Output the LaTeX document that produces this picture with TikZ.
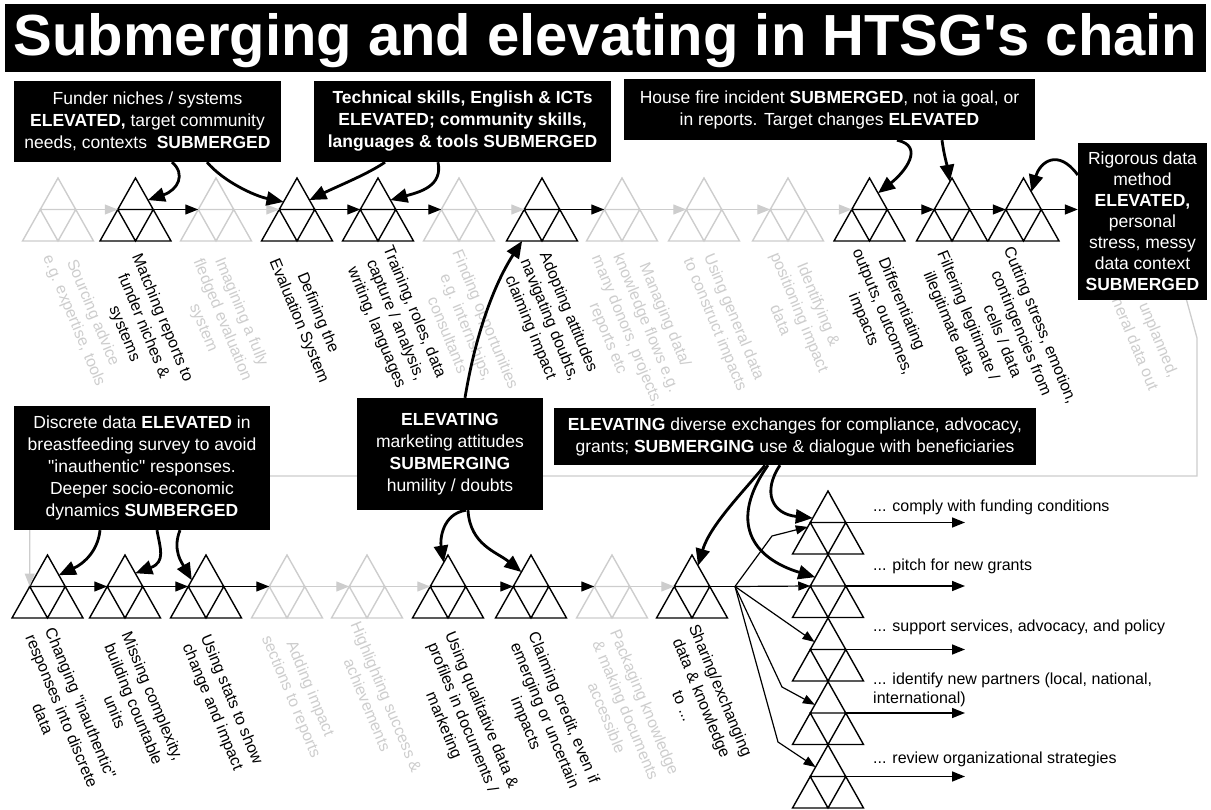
\documentclass[tikz,border=0pt]{standalone}
\usepackage{fontspec}
\newfontfamily\arial{Liberation Sans}[Ligatures=ResetAll]
\usetikzlibrary{arrows.meta,calc}
\definecolor{lgray}{RGB}{205,205,205}
\begin{document}
\begin{tikzpicture}[x=1pt,y=-1pt,
  tri line/.style={line width=1.4pt},
  tri/.pic={
    \coordinate (-a) at (0,0);
    \coordinate (-bl) at (-35.5,63);
    \coordinate (-br) at (35.5,63);
    \coordinate (-lm) at (-17.75,31.5);
    \coordinate (-rm) at (17.75,31.5);
    \coordinate (-bm) at (0,63);
    \draw[tri line] (-a) -- (-bl) -- (-br) -- cycle (-lm) -- (-rm) -- (-bm) -- cycle;
  },
  chain/.style={line width=1.4pt, -{Triangle[length=13pt,width=10pt]}},
  conn/.style={line width=2.8pt, -{Triangle[length=17pt,width=14pt]}},
  fanarrow/.style={line width=1.2pt, -{Triangle[length=12pt,width=9pt]}},
  lab/.style={rotate=-67.5, align=center, inner sep=0pt, font=\arial\fontsize{16}{20.5}\selectfont},
  glab/.style={lab, text=lgray},
  callout/.style={fill=black, text=white, align=center, inner sep=0pt, font=\arial\fontsize{17.5}{22}\selectfont},
  rlab/.style={anchor=west, align=left, inner sep=0pt, font=\arial\fontsize{16}{19}\selectfont},
  titletext/.style={anchor=base, text=white, inner sep=0pt, font=\arial\bfseries\fontsize{58}{60}\selectfont},
]
\useasboundingbox (0,0) rectangle (1211,810);

% ---------- title bar ----------
\fill (5,4) rectangle (1206,72);
\node[titletext] (title) at (605.5,56) {Submerging and elevating in HTSG's chain};

% ---------- step labels, upper chain ----------
\node[glab] (l-t1) at (83,317) {Sourcing advice\\e.g. expertise, tools};
\node[lab] (l-t2) at (143,326) {Matching reports to\\funder niches \&\\systems};
\node[glab] (l-t3) at (222,320) {Imagining a fully\\fledged evaluation\\system};
\node[lab] (l-t4) at (308,317) {Defining the\\Evaluation System};
\node[lab] (l-t5) at (395,320) {Training, roles, data\\capture / analysis,\\writing, languages};
\node[glab] (l-t6) at (467,327) {Finding opportunities\\e.g. internships,\\consultants};
\node[lab] (l-t7) at (549,320) {Adopting attitudes\\navigating doubts,\\claiming impact};
\node[glab] (l-t8) at (636,327) {Managing data/\\knowledge flows e.g.\\many donors, projects,\\reports etc};
\node[glab] (l-t9) at (724,321) {Using general data\\to construct impacts};
\node[glab] (l-t10) at (800,312) {Identifying \&\\positioning impact\\data};
\node[lab] (l-t11) at (882,312) {Differentiating\\outputs, outcomes,\\impacts};
\node[lab] (l-t12) at (958,320) {Filtering legitimate /\\illegitimate data};
\node[lab] (l-t13) at (1022,333) {Cutting stress, emotion,\\contingencies from\\cells / data};
\node[glab, anchor=east] (l-t14a) at (1173,377) {unplanned,};
\node[glab, anchor=east] (l-t14b) at (1153,390) {general data out};

% ---------- step labels, lower chain ----------
\node[lab] (l-b1) at (62,711) {Changing "inauthentic"\\responses into discrete\\data};
\node[lab] (l-b2) at (134,704) {Missing complexity,\\building countable\\units};
\node[lab] (l-b3) at (221.5,703.5) {Using stats to show\\change and impact};
\node[glab] (l-b4) at (300,693) {Adding impact\\sections to reports};
\node[glab] (l-b5) at (377,701) {Highlighting success \&\\achievements};
\node[lab] (l-b6) at (462,718) {Using qualitative data \&\\profiles in documents /\\marketing};
\node[lab] (l-b7) at (544,716) {Claiming credit, even if\\emerging or uncertain\\impacts};
\node[glab] (l-b8) at (626,710) {Packaging knowledge\\\& making documents\\accessible};
\node[lab] (l-b9) at (702,698) {Sharing/exchanging\\data \& knowledge\\to ...};

% ---------- triangles ----------
\pic[lgray] (t1) at (58,178) {tri};
\pic (t2) at (135.5,178) {tri};
\pic[lgray] (t3) at (216,178) {tri};
\pic (t4) at (297,178) {tri};
\pic (t5) at (378,178) {tri};
\pic[lgray] (t6) at (459,178) {tri};
\pic (t7) at (542,178) {tri};
\pic[lgray] (t8) at (622,178) {tri};
\pic[lgray] (t9) at (704,178) {tri};
\pic[lgray] (t10) at (788,178) {tri};
\pic (t11) at (869.5,178) {tri};
\pic (t12) at (952,178) {tri};
\pic (t13) at (1023.5,178) {tri};

\pic (b1) at (47.5,555) {tri};
\pic (b2) at (125,555) {tri};
\pic (b3) at (206,555) {tri};
\pic[lgray] (b4) at (287,555) {tri};
\pic[lgray] (b5) at (367,555) {tri};
\pic (b6) at (448,555) {tri};
\pic (b7) at (531,555) {tri};
\pic[lgray] (b8) at (612,555) {tri};
\pic (b9) at (692,555) {tri};

\pic (r1) at (828,491) {tri};
\pic (r2) at (828,554.5) {tri};
\pic (r3) at (828,618) {tri};
\pic (r4) at (828,681.5) {tri};
\pic (r5) at (828,745) {tri};

% ---------- chain arrows ----------
\foreach \a/\b/\c in {t1/t2/lgray, t2/t3/black, t3/t4/lgray, t4/t5/black, t5/t6/black,
  t6/t7/lgray, t7/t8/black, t8/t9/lgray, t9/t10/lgray, t10/t11/lgray, t11/t12/black,
  t12/t13/black, b1/b2/black, b2/b3/black, b3/b4/black, b4/b5/lgray, b5/b6/lgray,
  b6/b7/black, b7/b8/black, b8/b9/lgray}
  \draw[chain, \c] (\a-rm) -- (\b-lm);

% return path from the end of the upper chain to the lower chain
\coordinate (lp0) at (1181,280);
\coordinate (lp1) at (1197,338);
\coordinate (lp2) at (1197,476);
\draw[chain, lgray, line width=1.3pt] (lp0) -- (lp1) -- (lp2) -- (lp2 -| b1-lm) -- (b1-lm);

% fan of exchanges
\coordinate (fan) at (735,586.5);
\coordinate (rend) at (965,600);
\draw[line width=1.2pt] (b9-rm) -- (fan);
\draw[fanarrow] (fan) -- (772,536) -- ($(r1-a)!0.57!(r1-bl)$);
\draw[fanarrow] (fan) -- (r2-lm);
\draw[fanarrow] (fan) -- ($(r3-a)!0.38!(r3-bl)$);
\draw[fanarrow] (fan) -- (782,687) -- ($(r4-a)!0.37!(r4-bl)$);
\draw[fanarrow] (fan) -- (778,742) -- ($(r5-a)!0.35!(r5-bl)$);
\foreach \r in {r1,r2,r3,r4,r5}
  \draw[chain, line width=1.5pt] (\r-rm) -- (\r-rm -| rend);

\node[rlab] (o1) at (873,507) {... comply with funding conditions};
\node[rlab] (o2) at (873,566) {... pitch for new grants};
\node[rlab] (o3) at (873,627) {... support services, advocacy, and policy};
\node[rlab] (o4) at (873,689.5) {... identify new partners (local, national,\\international)};
\node[rlab] (o5) at (873,759) {... review organizational strategies};

% ---------- callouts ----------
\node[callout, minimum width=267pt, minimum height=81pt] (c1) at (147.5,121.5)
  {Funder niches / systems\\\textbf{ELEVATED,} target community\\needs, contexts~ \textbf{SUBMERGED}};
\node[callout, minimum width=297pt, minimum height=81pt, font=\arial\bfseries\fontsize{17.5}{22}\selectfont] (c2) at (462.5,121.5)
  {Technical skills, English \& ICTs\\ELEVATED; community skills,\\languages \& tools SUBMERGED};
\node[callout, minimum width=411pt, minimum height=61pt] (c3) at (829.5,109.5)
  {House fire incident \textbf{SUBMERGED}, not ia goal, or\\in reports. Target changes \textbf{ELEVATED}};
\node[callout, minimum width=129pt, minimum height=157pt, font=\arial\fontsize{17.5}{21}\selectfont] (c4) at (1142.5,221.5)
  {Rigorous data\\method\\\textbf{ELEVATED,}\\personal\\stress, messy\\data context\\\textbf{SUBMERGED}};
\node[callout, minimum width=256pt, minimum height=124pt] (c5) at (142,468)
  {Discrete data \textbf{ELEVATED} in\\breastfeeding survey to avoid\\"inauthentic" responses.\\Deeper socio-economic\\dynamics \textbf{SUMBERGED}};
\node[callout, minimum width=186pt, minimum height=112pt] (c6) at (450,454)
  {\textbf{ELEVATING}\\marketing attitudes\\\textbf{SUBMERGING}\\humility / doubts};
\node[callout, minimum width=482pt, minimum height=57pt] (c7) at (795,436.5)
  {\textbf{ELEVATING} diverse exchanges for compliance, advocacy,\\grants; \textbf{SUBMERGING} use \& dialogue with beneficiaries};

% arrow from the last upper step into the callout
\draw[chain] (t13-rm) -- (t13-rm -| c4.west);

% ---------- callout connectors ----------
\draw[conn] ($(c1.south)+(24.5,0)$) .. controls (186,174) and (178,190) .. ($(t2-a)!0.35!(t2-br)$);
\draw[conn] ($(c1.south)+(59.5,0)$) .. controls (224,182) and (255,196) .. ($(t4-a)!0.38!(t4-bl)$);
\draw[conn] ($(c2.south)+(-77.5,0)$) .. controls (368,174) and (338,186) .. ($(t4-a)!0.35!(t4-br)$);
\draw[conn] ($(c2.south)+(-24.5,0)$) .. controls (443,186) and (420,192) .. ($(t5-a)!0.35!(t5-br)$);
\draw[conn] ($(c3.south)+(67.5,0)$) .. controls (925,146) and (905,172) .. ($(t11-a)!0.24!(t11-br)$);
\draw[conn] ($(c3.south)+(112.5,0)$) .. controls (944,155) and (947,165) .. ($(t12-a)!0.06!(t12-bl)$);
\draw[conn] ($(c4.west)+(0,-46.5)$) .. controls (1058,148) and (1040,162) .. ($(t13-a)!0.22!(t13-br)$);
\draw[conn] ($(c5.south)+(-42,0)$) .. controls (98,550) and (85,563) .. ($(b1-a)!0.32!(b1-br)$);
\draw[conn] ($(c5.south)+(15,0)$) .. controls (160,548) and (166,562) .. ($(b2-a)!0.29!(b2-br)$);
\draw[conn] ($(c5.south)+(38,0)$) .. controls (172,550) and (182,563) .. ($(b3-a)!0.4!(b3-bl)$);
\draw[conn] ($(c6.north)+(15,0)$) .. controls (478,320) and (500,275) .. ($(t7-bl)!0.22!(t7-br)$);
\draw[conn] ($(c6.south)+(16,0)$) .. controls (442,514) and (440,540) .. ($(b6-a)!0.12!(b6-bl)$);
\draw[conn] ($(c6.south)+(18,0)$) .. controls (470,545) and (497,552) .. ($(b7-a)!0.27!(b7-bl)$);
\draw[conn] ($(c7.south)+(-30,0)$) .. controls (745,490) and (710,525) .. ($(b9-a)!0.17!(b9-br)$);
\draw[conn] ($(c7.south)+(-15,0)$) .. controls (762,492) and (772,514) .. ($(r1-a)!0.43!(r1-bl)$);
\draw[conn] ($(c7.south)+(-27,0)$) .. controls (728,522) and (752,558) .. ($(r2-a)!0.36!(r2-bl)$);
\end{tikzpicture}
\end{document}
